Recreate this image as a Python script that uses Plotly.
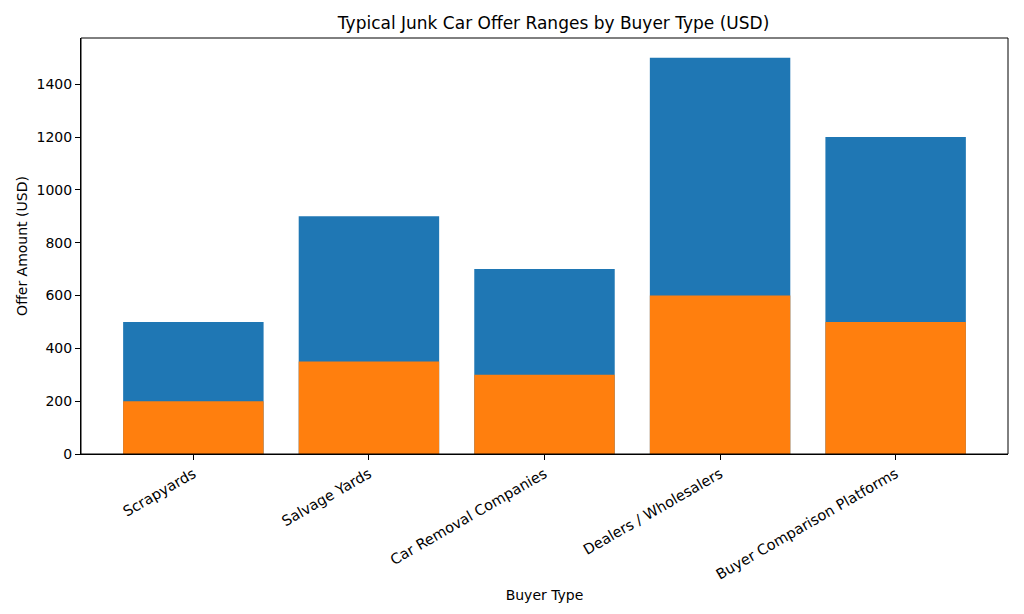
import plotly.graph_objects as go

categories = ["Scrapyards", "Salvage Yards", "Car Removal Companies", "Dealers / Wholesalers", "Buyer Comparison Platforms"]
max_offer = [500, 900, 700, 1500, 1200]
min_offer = [200, 350, 300, 600, 500]
y_ticks = [0, 200, 400, 600, 800, 1000, 1200, 1400]

xs = list(range(len(categories)))

fig = go.Figure()
fig.add_trace(go.Bar(x=xs, y=max_offer, width=0.8, marker=dict(color="#1f77b4", line=dict(width=0)), name="Max"))
fig.add_trace(go.Bar(x=xs, y=min_offer, width=0.8, marker=dict(color="#ff7f0e", line=dict(width=0)), name="Min"))

# page body has 8px margin; compensate so the plot lands at the reference position
fig.update_layout(
    barmode="overlay",
    width=1016, height=606,
    paper_bgcolor="white", plot_bgcolor="white",
    showlegend=False,
    margin=dict(l=73, r=16, t=30, b=160),
    font=dict(family="DejaVu Sans", size=14, color="black"),
    title=dict(text="Typical Junk Car Offer Ranges by Buyer Type (USD)", x=0.537, xanchor="center",
               y=1 - 15 / 606, yanchor="middle", font=dict(size=17)),
    shapes=[dict(type="rect", xref="paper", yref="paper", x0=0, x1=1, y0=0, y1=1,
                 line=dict(color="black", width=1), fillcolor="rgba(0,0,0,0)", layer="above")],
)
fig.update_xaxes(
    tickmode="array", tickvals=xs, ticktext=categories, tickangle=-30,
    range=[-0.64, 4.64], showgrid=False, zeroline=False, automargin=False,
    showline=True, linecolor="black", linewidth=1,
    ticks="outside", ticklen=5, tickcolor="black", tickfont=dict(size=14.5),
    title=dict(text="Buyer Type", standoff=8, font=dict(size=14)),
)
fig.update_yaxes(
    range=[0, 1575], tickvals=y_ticks,
    showgrid=False, zeroline=False, automargin=False,
    showline=True, linecolor="black", linewidth=1,
    ticks="outside", ticklen=5, tickcolor="black", tickfont=dict(size=14),
    title=dict(text="Offer Amount (USD)", standoff=5, font=dict(size=14)),
)

fig.write_html("out.html")
